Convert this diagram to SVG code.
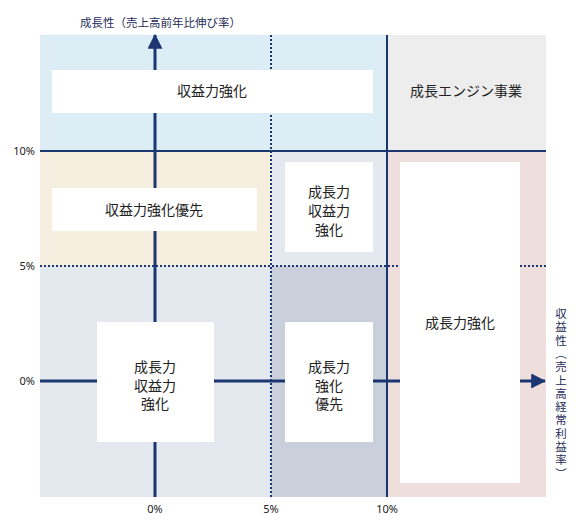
<svg xmlns="http://www.w3.org/2000/svg" width="580" height="528" viewBox="0 0 580 528">
<style>
.lbl{font-family:"Noto Sans CJK JP","Noto Sans",sans-serif;font-size:14px;fill:#222;text-anchor:middle}
.tick{font-family:"Noto Sans","Liberation Sans",sans-serif;font-size:11px;fill:#222}
.axis{font-family:"Noto Sans CJK JP",sans-serif;font-size:11.5px;fill:#1f2d5a}
.box{fill:#fff}
.solid{stroke:#1b3670;stroke-width:2;fill:none}
.thick{stroke:#1b3670;stroke-width:3;fill:none}
.dot{stroke:#1b3670;stroke-width:2;stroke-dasharray:2 2;fill:none}
</style>
<defs>
<marker id="ah" markerWidth="5" markerHeight="5" refX="4.6" refY="2.5" orient="auto" markerUnits="strokeWidth">
<path d="M0,0 L5,2.5 L0,5 Z" fill="#1b3670"/>
</marker>
</defs>
<rect width="580" height="528" fill="#fff"/>
<g id="regions">
<rect x="40" y="35" width="347" height="116" fill="#ddedf6"/>
<rect x="387" y="35" width="159" height="116" fill="#ededed"/>
<rect x="40" y="151" width="231" height="115" fill="#f6efdf"/>
<rect x="271" y="151" width="116" height="115" fill="#e4e8ef"/>
<rect x="40" y="266" width="231" height="231" fill="#e4e8ef"/>
<rect x="271" y="266" width="116" height="231" fill="#c9d0dc"/>
<rect x="387" y="151" width="159" height="346" fill="#eedfdc"/>
</g>
<g id="connectors">
<line class="dot" x1="271" y1="35" x2="271" y2="497"/>
<line class="dot" x1="40" y1="266" x2="546" y2="266"/>
<line class="solid" x1="40" y1="151" x2="546" y2="151"/>
<line class="solid" x1="387" y1="35" x2="387" y2="497"/>
<line class="thick" x1="40" y1="381" x2="545" y2="381" marker-end="url(#ah)"/>
<line class="thick" x1="155" y1="497" x2="155" y2="35" marker-end="url(#ah)"/>
</g>
<g id="n1"><rect class="box" x="52" y="70" width="321" height="43"/><text class="lbl" x="212" y="96">収益力強化</text></g>
<g id="n2"><text class="lbl" x="466" y="96">成長エンジン事業</text></g>
<g id="n3"><rect class="box" x="52" y="188" width="205" height="43"/><text class="lbl" x="154" y="215">収益力強化優先</text></g>
<g id="n4"><rect class="box" x="285" y="162" width="88" height="90"/><text class="lbl" x="329" y="197">成長力<tspan x="329" dy="19">収益力</tspan><tspan x="329" dy="19">強化</tspan></text></g>
<g id="n5"><rect class="box" x="400" y="162" width="120" height="321"/><text class="lbl" x="460" y="328">成長力強化</text></g>
<g id="n6"><rect class="box" x="97" y="322" width="117" height="120"/><text class="lbl" x="155" y="372">成長力<tspan x="155" dy="18.5">収益力</tspan><tspan x="155" dy="18.5">強化</tspan></text></g>
<g id="n7"><rect class="box" x="285" y="322" width="88" height="120"/><text class="lbl" x="329" y="372">成長力<tspan x="329" dy="18.5">強化</tspan><tspan x="329" dy="18.5">優先</tspan></text></g>
<g id="ticks">
<text class="tick" x="35" y="155" text-anchor="end">10%</text>
<text class="tick" x="35" y="270" text-anchor="end">5%</text>
<text class="tick" x="35" y="385" text-anchor="end">0%</text>
<text class="tick" x="155" y="513" text-anchor="middle">0%</text>
<text class="tick" x="271" y="513" text-anchor="middle">5%</text>
<text class="tick" x="387" y="513" text-anchor="middle">10%</text>
</g>
<g id="axes">
<text class="axis" x="80" y="27">成長性（売上高前年比伸び率）</text>
<text class="axis" text-anchor="middle" x="561" y="318">収<tspan x="561" dy="13.3">益</tspan><tspan x="561" dy="13.3">性</tspan><tspan x="561" dy="13.3">︵</tspan><tspan x="561" dy="13.3">売</tspan><tspan x="561" dy="13.3">上</tspan><tspan x="561" dy="13.3">高</tspan><tspan x="561" dy="13.3">経</tspan><tspan x="561" dy="13.3">常</tspan><tspan x="561" dy="13.3">利</tspan><tspan x="561" dy="13.3">益</tspan><tspan x="561" dy="13.3">率</tspan><tspan x="561" dy="13.3">︶</tspan></text>
</g>
</svg>
